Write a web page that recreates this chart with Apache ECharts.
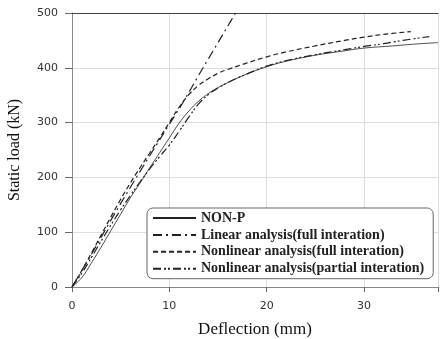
<!DOCTYPE html>
<html>
<head>
<meta charset="utf-8">
<script src="https://cdn.jsdelivr.net/npm/echarts@6/dist/echarts.min.js"></script>
<style>
  html, body { margin: 0; padding: 0; background: #fff; }
  #chart { width: 441px; height: 339px; }
</style>
</head>
<body>
<div id="chart"></div>
<script>
// 数据 (deflection mm, static load kN)
const nonP = [
    [0, 0], [1, 17], [2, 44], [3, 73], [4, 103], [5, 133], [6, 163], [7, 190],
    [8, 218], [9, 245], [10, 272], [11, 299], [12, 321], [13, 339], [14, 353],
    [15, 364], [16, 373], [18, 389], [20, 402], [22, 412], [25, 423], [28, 431],
    [30, 436], [33, 440], [35, 443], [37.6, 446]
];
const linearFull = [
    [0, 0], [2, 60], [4, 122], [6, 182], [8, 240], [10, 297], [11, 325],
    [12, 355], [13, 386], [14, 416], [15, 446], [16, 476], [16.8, 500]
];
const nonlinearFull = [
    [0, 0], [1, 30], [2, 62], [3, 95], [4, 128], [5, 160], [6, 190], [7, 218],
    [8, 245], [9, 272], [10, 300], [11, 328], [12, 351], [13, 368], [14, 380],
    [15, 390], [16, 397], [18, 409], [20, 420], [22, 429], [25, 440], [28, 450],
    [30, 456], [32, 461], [34.8, 466]
];
const nonlinearPartial = [
    [0, 0], [1, 25], [2, 54], [3, 84], [4, 113], [5, 141], [6, 167], [7, 192],
    [8, 216], [9, 238], [10, 259], [11, 284], [12, 310], [13, 334], [14, 351],
    [15, 363], [16, 373], [18, 389], [20, 403], [22, 413], [25, 424], [28, 433],
    [30, 439], [32, 444], [34, 450], [36.7, 457]
];
const seriesNames = [
    'NON-P',
    'Linear analysis(full interation)',
    'Nonlinear analysis(full interation)',
    'Nonlinear analysis(partial interation)'
];

const chart = echarts.init(document.getElementById('chart'));

const mkLine = (name, data, type, width) => ({
    name: name,
    type: 'line',
    data: data,
    smooth: 0.4,
    symbol: 'none',
    showSymbol: false,
    itemStyle: { color: '#222' },
    lineStyle: { color: '#222', width: width, type: type }
});

const option = {
    animation: false,
    grid: { left: 72, right: 3, top: 13, bottom: 52, outerBoundsMode: 'none', containLabel: false },
    legend: {
        orient: 'vertical',
        left: 147,
        top: 208,
        padding: [3, 9, 3, 5],
        itemWidth: 43,
        itemHeight: 12,
        itemGap: 2.9,
        itemStyle: { opacity: 0 },
        borderColor: '#666',
        borderWidth: 1,
        borderRadius: 6,
        backgroundColor: '#fff',
        textStyle: { fontFamily: 'Liberation Serif', fontSize: 14, fontWeight: 'bold', lineHeight: 12, color: '#222' },
        data: seriesNames
    },
    xAxis: [
        {
            type: 'value',
            min: 0,
            max: 37.6,
            interval: 10,
            name: 'Deflection (mm)',
            nameLocation: 'middle',
            nameGap: 34,
            nameTextStyle: { fontFamily: 'Liberation Serif', fontSize: 17, color: '#111' },
            axisLine: { show: true, lineStyle: { color: '#888', width: 1 } },
            axisTick: { show: true, length: 5, lineStyle: { color: '#666' } },
            axisLabel: { fontFamily: 'DejaVu Sans', fontSize: 11, color: '#333', margin: 14,
                formatter: v => (v > 37 ? '' : v) },
            splitLine: { show: true, lineStyle: { color: '#ddd', width: 1 } }
        },
        {
            type: 'value',
            position: 'top',
            min: 0,
            max: 37.6,
            axisLine: { show: true, lineStyle: { color: '#444', width: 1.2 } },
            axisTick: { show: false },
            axisLabel: { show: false },
            splitLine: { show: false }
        }
    ],
    yAxis: {
        type: 'value',
        min: 0,
        max: 500,
        interval: 100,
        name: 'Static load (kN)',
        nameLocation: 'middle',
        nameGap: 49,
        nameTextStyle: { fontFamily: 'Liberation Serif', fontSize: 16, color: '#111' },
        axisLine: { show: true, lineStyle: { color: '#888', width: 1 } },
        axisTick: { show: true, length: 7, lineStyle: { color: '#666' } },
        axisLabel: { fontFamily: 'DejaVu Sans', fontSize: 11, color: '#333', margin: 14 },
        splitLine: { show: true, lineStyle: { color: '#ddd', width: 1 } }
    },
    series: [
        mkLine(seriesNames[0], nonP, 'solid', 0.8),
        mkLine(seriesNames[1], linearFull, [9, 4, 2, 4], 1.2),
        mkLine(seriesNames[2], nonlinearFull, [5, 3], 1.2),
        mkLine(seriesNames[3], nonlinearPartial, [8, 3, 2, 2, 2, 3], 1.2)
    ]
};
chart.setOption(option);
</script>
</body>
</html>
